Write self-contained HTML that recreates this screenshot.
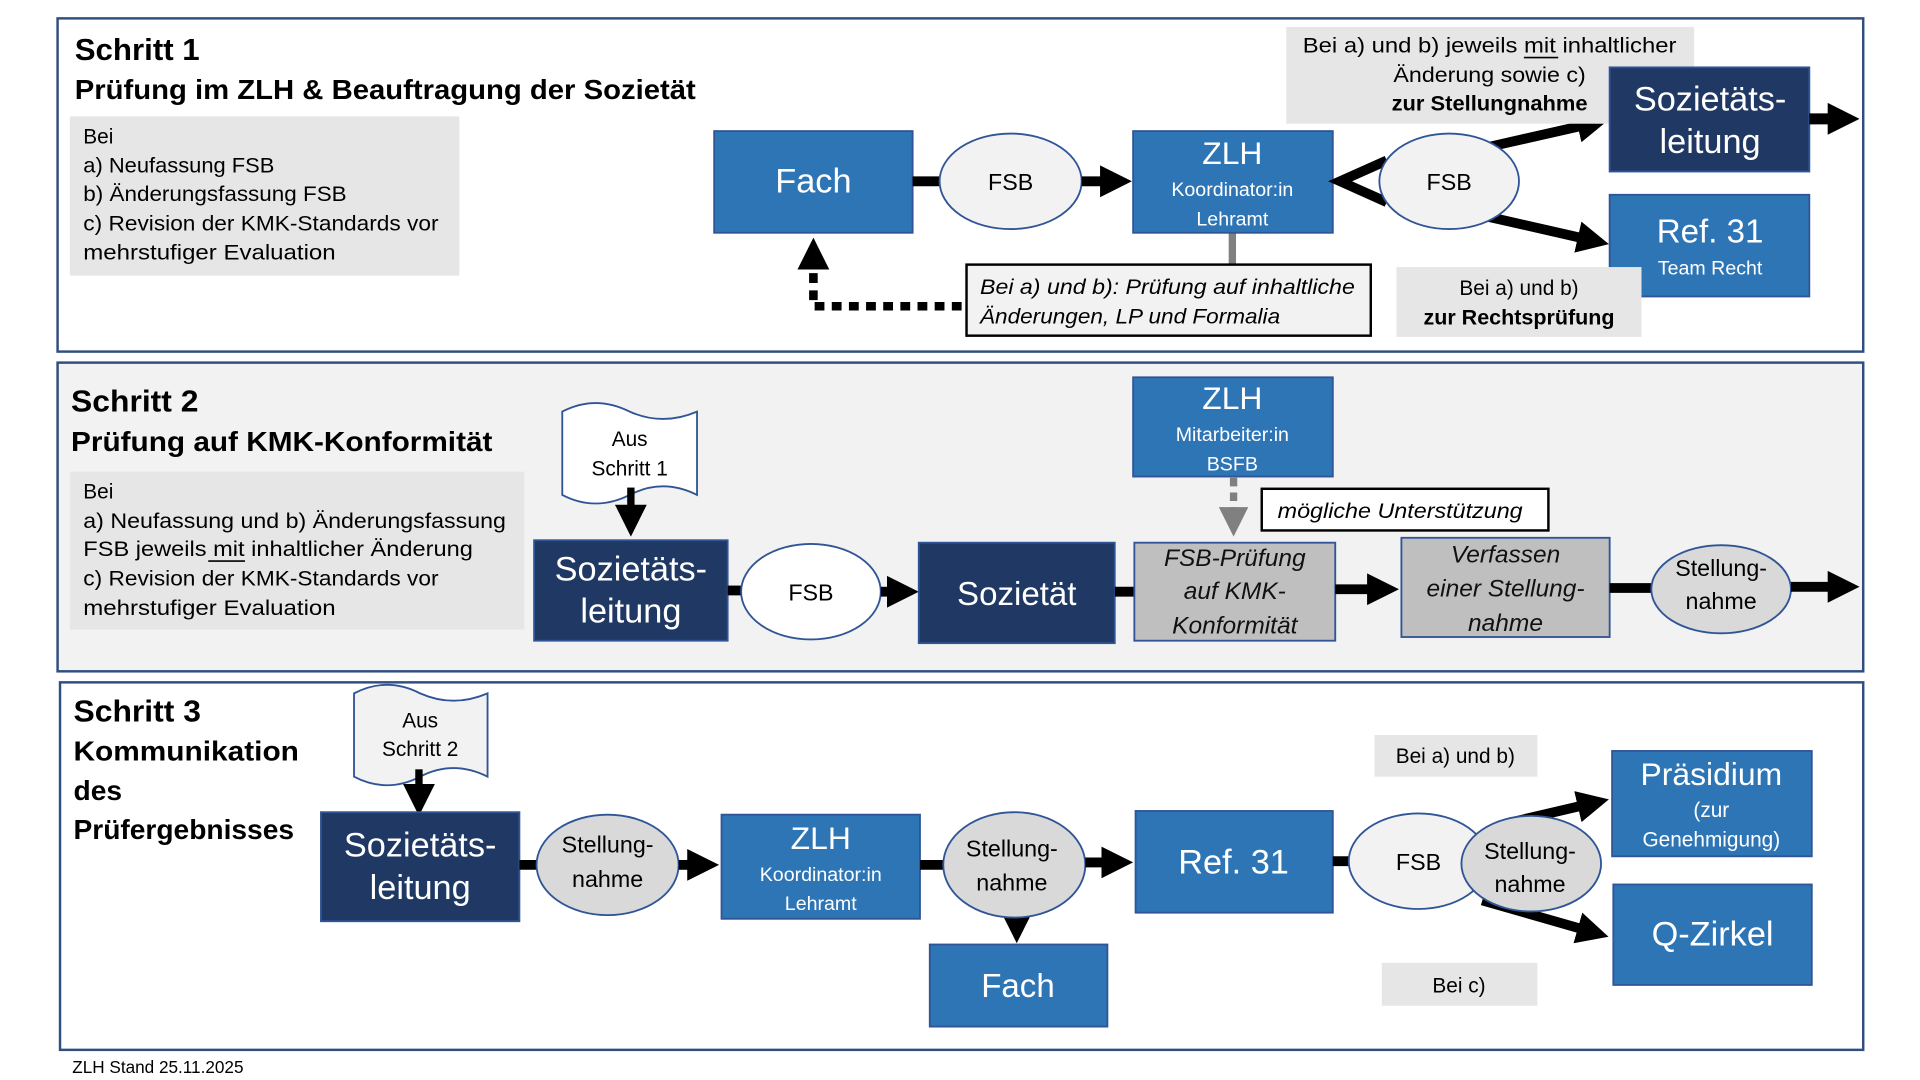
<!DOCTYPE html>
<html><head><meta charset="utf-8"><style>
html,body{margin:0;padding:0;background:#fff;width:1920px;height:1080px;overflow:hidden}
svg{display:block}
text{font-family:"Liberation Sans",sans-serif}
</style></head><body>
<svg width="1920" height="1080" viewBox="0 0 1567.35 881.6" preserveAspectRatio="none">
<defs>
<marker id="ah" markerUnits="userSpaceOnUse" markerWidth="30" markerHeight="30" refX="2" refY="15" orient="auto"><path d="M0,2 L26,15 L0,28 Z" fill="#000"/></marker>
<marker id="ahg" markerUnits="userSpaceOnUse" markerWidth="30" markerHeight="30" refX="2" refY="15" orient="auto"><path d="M0,3 L24,15 L0,27 Z" fill="#808080"/></marker>
</defs>
<rect width="1567.35" height="881.6" fill="#fff"/>
<!-- frames -->
<rect x="47" y="15" width="1474" height="272" fill="#fff" stroke="#2f4d7e" stroke-width="2"/>
<rect x="47" y="296" width="1474" height="252" fill="#f2f2f2" stroke="#2f4d7e" stroke-width="2"/>
<rect x="49" y="557" width="1472" height="300" fill="#fff" stroke="#2f4d7e" stroke-width="2"/>
<text x="59" y="876" font-size="14" fill="#000">ZLH Stand 25.11.2025</text>

<!-- STEP 1 -->
<text x="61" y="49" font-size="25" font-weight="bold" textLength="102" lengthAdjust="spacingAndGlyphs">Schritt 1</text>
<text x="61" y="81" font-size="23" font-weight="bold" textLength="507" lengthAdjust="spacingAndGlyphs">Prüfung im ZLH &amp; Beauftragung der Sozietät</text>
<rect x="57" y="95" width="318" height="130" fill="#e7e6e6"/>
<g font-size="17">
<text x="68" y="117">Bei</text>
<text x="68" y="141" textLength="156" lengthAdjust="spacingAndGlyphs">a) Neufassung FSB</text>
<text x="68" y="164" textLength="215" lengthAdjust="spacingAndGlyphs">b) Änderungsfassung FSB</text>
<text x="68" y="188" textLength="290" lengthAdjust="spacingAndGlyphs">c) Revision der KMK-Standards vor</text>
<text x="68" y="212" textLength="206" lengthAdjust="spacingAndGlyphs">mehrstufiger Evaluation</text>
</g>
<!-- dotted feedback -->
<polyline points="785,250 664,250 664,218" fill="none" stroke="#000" stroke-width="7" stroke-dasharray="8,6" marker-end="url(#ah)"/>
<!-- Fach -->
<rect x="583" y="107" width="162" height="83" fill="#2e75b6" stroke="#2f5597" stroke-width="1.5"/>
<text x="664" y="157" font-size="28" fill="#fff" text-anchor="middle">Fach</text>
<line x1="745" y1="148" x2="770" y2="148" stroke="#000" stroke-width="8"/>
<ellipse cx="825" cy="148" rx="58" ry="39" fill="#f2f2f2" stroke="#2f5597" stroke-width="1.5"/>
<text x="825" y="155" font-size="19" text-anchor="middle">FSB</text>
<line x1="883" y1="148" x2="900" y2="148" stroke="#000" stroke-width="8" marker-end="url(#ah)"/>
<!-- ZLH -->
<line x1="1006" y1="190" x2="1006" y2="217" stroke="#808080" stroke-width="6"/>
<rect x="925" y="107" width="163" height="83" fill="#2e75b6" stroke="#2f5597" stroke-width="1.5"/>
<text x="1006" y="134" font-size="26" fill="#fff" text-anchor="middle">ZLH</text>
<text x="1006" y="160" font-size="16" fill="#fff" text-anchor="middle">Koordinator:in</text>
<text x="1006" y="184" font-size="16" fill="#fff" text-anchor="middle">Lehramt</text>
<polyline points="1132,131 1094,148 1132,165" fill="none" stroke="#000" stroke-width="8"/>
<line x1="1215" y1="120" x2="1290" y2="103" stroke="#000" stroke-width="8" marker-end="url(#ah)"/>
<line x1="1215" y1="177" x2="1290" y2="194" stroke="#000" stroke-width="8" marker-end="url(#ah)"/>
<ellipse cx="1183" cy="148" rx="57" ry="39" fill="#f2f2f2" stroke="#2f5597" stroke-width="1.5"/>
<text x="1183" y="155" font-size="19" text-anchor="middle">FSB</text>
<!-- top label -->
<rect x="1050" y="22" width="333" height="79" fill="#e7e6e6"/>
<g font-size="17" text-anchor="middle">
<text x="1216" y="43" textLength="305" lengthAdjust="spacingAndGlyphs">Bei a) und b) jeweils mit inhaltlicher</text>
<text x="1216" y="67" textLength="157" lengthAdjust="spacingAndGlyphs">Änderung sowie c)</text>
<text x="1216" y="90" font-weight="bold" textLength="160" lengthAdjust="spacingAndGlyphs">zur Stellungnahme</text>
</g>
<line x1="1244" y1="47" x2="1272" y2="47" stroke="#000" stroke-width="1.3"/>
<!-- Sozietätsleitung -->
<rect x="1314" y="55" width="163" height="85" fill="#203864" stroke="#2f5597" stroke-width="1.5"/>
<text x="1396" y="90" font-size="28" fill="#fff" text-anchor="middle">Sozietäts-</text>
<text x="1396" y="125" font-size="28" fill="#fff" text-anchor="middle">leitung</text>
<line x1="1477" y1="97" x2="1494" y2="97" stroke="#000" stroke-width="9" marker-end="url(#ah)"/>
<!-- Ref 31 -->
<rect x="1314" y="159" width="163" height="83" fill="#2e75b6" stroke="#2f5597" stroke-width="1.5"/>
<text x="1396" y="198" font-size="27" fill="#fff" text-anchor="middle">Ref. 31</text>
<text x="1396" y="224" font-size="16" fill="#fff" text-anchor="middle">Team Recht</text>
<rect x="1140" y="218" width="200" height="57" fill="#e7e6e6"/>
<text x="1240" y="241" font-size="17" text-anchor="middle">Bei a) und b)</text>
<text x="1240" y="265" font-size="17" font-weight="bold" text-anchor="middle" textLength="156" lengthAdjust="spacingAndGlyphs">zur Rechtsprüfung</text>
<!-- italic box -->
<rect x="789" y="216" width="330" height="58" fill="#f2f2f2" stroke="#000" stroke-width="2"/>
<text x="800" y="240" font-size="17" font-style="italic" textLength="306" lengthAdjust="spacingAndGlyphs">Bei a) und b): Prüfung auf inhaltliche</text>
<text x="800" y="264" font-size="17" font-style="italic" textLength="245" lengthAdjust="spacingAndGlyphs">Änderungen, LP und Formalia</text>

<!-- STEP 2 -->
<text x="58" y="336" font-size="25" font-weight="bold" textLength="104" lengthAdjust="spacingAndGlyphs">Schritt 2</text>
<text x="58" y="368" font-size="23" font-weight="bold" textLength="344" lengthAdjust="spacingAndGlyphs">Prüfung auf KMK-Konformität</text>
<rect x="57" y="385" width="371" height="129" fill="#e6e6e6"/>
<g font-size="17">
<text x="68" y="407">Bei</text>
<text x="68" y="431" textLength="345" lengthAdjust="spacingAndGlyphs">a) Neufassung und b) Änderungsfassung</text>
<text x="68" y="454" textLength="318" lengthAdjust="spacingAndGlyphs">FSB jeweils mit inhaltlicher Änderung</text>
<text x="68" y="478" textLength="290" lengthAdjust="spacingAndGlyphs">c) Revision der KMK-Standards vor</text>
<text x="68" y="502" textLength="206" lengthAdjust="spacingAndGlyphs">mehrstufiger Evaluation</text>
</g>
<line x1="170" y1="458" x2="200" y2="458" stroke="#000" stroke-width="1.3"/>
<!-- doc shape -->
<path d="M459,336 Q486,322 514,336 Q541,348 569,336 L569,404 Q541,390 514,404 Q486,418 459,404 Z" fill="#fff" stroke="#2f5597" stroke-width="1.5"/>
<text x="514" y="364" font-size="17" text-anchor="middle">Aus</text>
<text x="514" y="388" font-size="17" text-anchor="middle">Schritt 1</text>
<line x1="515" y1="398" x2="515" y2="414" stroke="#000" stroke-width="6" marker-end="url(#ah)"/>
<rect x="436" y="441" width="158" height="82" fill="#203864" stroke="#2f5597" stroke-width="1.5"/>
<text x="515" y="474" font-size="28" fill="#fff" text-anchor="middle">Sozietäts-</text>
<text x="515" y="508" font-size="28" fill="#fff" text-anchor="middle">leitung</text>
<line x1="594" y1="482" x2="606" y2="482" stroke="#000" stroke-width="8"/>
<ellipse cx="662" cy="483" rx="57" ry="39" fill="#fff" stroke="#2f5597" stroke-width="1.5"/>
<text x="662" y="490" font-size="19" text-anchor="middle">FSB</text>
<line x1="719" y1="483" x2="726" y2="483" stroke="#000" stroke-width="8" marker-end="url(#ah)"/>
<rect x="750" y="443" width="160" height="82" fill="#203864" stroke="#2f5597" stroke-width="1.5"/>
<text x="830" y="494" font-size="27" fill="#fff" text-anchor="middle">Sozietät</text>
<line x1="910" y1="483" x2="927" y2="483" stroke="#000" stroke-width="8"/>
<rect x="926" y="443" width="164" height="80" fill="#bfbfbf" stroke="#2f5597" stroke-width="1.5"/>
<g font-size="20" font-style="italic" text-anchor="middle" fill="#111">
<text x="1008" y="462">FSB-Prüfung</text>
<text x="1008" y="489">auf KMK-</text>
<text x="1008" y="517">Konformität</text>
</g>
<rect x="925" y="308" width="163" height="81" fill="#2e75b6" stroke="#2f5597" stroke-width="1.5"/>
<text x="1006" y="334" font-size="26" fill="#fff" text-anchor="middle">ZLH</text>
<text x="1006" y="360" font-size="16" fill="#fff" text-anchor="middle">Mitarbeiter:in</text>
<text x="1006" y="384" font-size="16" fill="#fff" text-anchor="middle">BSFB</text>
<line x1="1007" y1="390" x2="1007" y2="416" stroke="#808080" stroke-width="6" stroke-dasharray="7,5" marker-end="url(#ahg)"/>
<rect x="1030" y="399" width="234" height="34" fill="#fff" stroke="#000" stroke-width="2"/>
<text x="1043" y="423" font-size="17" font-style="italic" textLength="200" lengthAdjust="spacingAndGlyphs">mögliche Unterstützung</text>
<line x1="1090" y1="481" x2="1118" y2="481" stroke="#000" stroke-width="8" marker-end="url(#ah)"/>
<rect x="1144" y="439" width="170" height="81" fill="#bfbfbf" stroke="#2f5597" stroke-width="1.5"/>
<g font-size="20" font-style="italic" text-anchor="middle" fill="#111">
<text x="1229" y="459">Verfassen</text>
<text x="1229" y="487">einer Stellung-</text>
<text x="1229" y="515">nahme</text>
</g>
<line x1="1314" y1="480" x2="1350" y2="480" stroke="#000" stroke-width="8"/>
<ellipse cx="1405" cy="481" rx="57" ry="36" fill="#d9d9d9" stroke="#2f5597" stroke-width="1.5"/>
<text x="1405" y="470" font-size="19" text-anchor="middle">Stellung-</text>
<text x="1405" y="497" font-size="19" text-anchor="middle">nahme</text>
<line x1="1462" y1="479" x2="1494" y2="479" stroke="#000" stroke-width="8" marker-end="url(#ah)"/>

<!-- STEP 3 -->
<text x="60" y="589" font-size="25" font-weight="bold" textLength="104" lengthAdjust="spacingAndGlyphs">Schritt 3</text>
<g font-size="23" font-weight="bold">
<text x="60" y="621" textLength="184" lengthAdjust="spacingAndGlyphs">Kommunikation</text>
<text x="60" y="653">des</text>
<text x="60" y="685" textLength="180" lengthAdjust="spacingAndGlyphs">Prüfergebnisses</text>
</g>
<path d="M289,566 Q316,552 343,566 Q370,578 398,566 L398,634 Q370,620 343,634 Q316,648 289,634 Z" fill="#f2f2f2" stroke="#2f5597" stroke-width="1.5"/>
<text x="343" y="594" font-size="17" text-anchor="middle">Aus</text>
<text x="343" y="617" font-size="17" text-anchor="middle">Schritt 2</text>
<line x1="342" y1="628" x2="342" y2="642" stroke="#000" stroke-width="6" marker-end="url(#ah)"/>
<rect x="262" y="663" width="162" height="89" fill="#203864" stroke="#2f5597" stroke-width="1.5"/>
<text x="343" y="699" font-size="28" fill="#fff" text-anchor="middle">Sozietäts-</text>
<text x="343" y="734" font-size="28" fill="#fff" text-anchor="middle">leitung</text>
<line x1="424" y1="706" x2="440" y2="706" stroke="#000" stroke-width="8"/>
<ellipse cx="496" cy="706" rx="58" ry="41" fill="#d9d9d9" stroke="#2f5597" stroke-width="1.5"/>
<text x="496" y="696" font-size="19" text-anchor="middle">Stellung-</text>
<text x="496" y="724" font-size="19" text-anchor="middle">nahme</text>
<line x1="554" y1="706" x2="563" y2="706" stroke="#000" stroke-width="8" marker-end="url(#ah)"/>
<rect x="589" y="665" width="162" height="85" fill="#2e75b6" stroke="#2f5597" stroke-width="1.5"/>
<text x="670" y="693" font-size="26" fill="#fff" text-anchor="middle">ZLH</text>
<text x="670" y="719" font-size="16" fill="#fff" text-anchor="middle">Koordinator:in</text>
<text x="670" y="743" font-size="16" fill="#fff" text-anchor="middle">Lehramt</text>
<line x1="751" y1="706" x2="776" y2="706" stroke="#000" stroke-width="8"/>
<line x1="830" y1="745" x2="830" y2="746" stroke="#000" stroke-width="6" marker-end="url(#ah)"/>
<ellipse cx="828" cy="706" rx="58" ry="43" fill="#d9d9d9" stroke="#2f5597" stroke-width="1.5"/>
<text x="826" y="699" font-size="19" text-anchor="middle">Stellung-</text>
<text x="826" y="727" font-size="19" text-anchor="middle">nahme</text>
<line x1="886" y1="704" x2="901" y2="704" stroke="#000" stroke-width="8" marker-end="url(#ah)"/>
<rect x="759" y="771" width="145" height="67" fill="#2e75b6" stroke="#2f5597" stroke-width="1.5"/>
<text x="831" y="814" font-size="27" fill="#fff" text-anchor="middle">Fach</text>
<rect x="927" y="662" width="161" height="83" fill="#2e75b6" stroke="#2f5597" stroke-width="1.5"/>
<text x="1007" y="713" font-size="28" fill="#fff" text-anchor="middle">Ref. 31</text>
<line x1="1088" y1="703" x2="1104" y2="703" stroke="#000" stroke-width="8"/>
<line x1="1230" y1="672" x2="1290" y2="658" stroke="#000" stroke-width="8" marker-end="url(#ah)"/>
<line x1="1210" y1="735" x2="1290" y2="758" stroke="#000" stroke-width="8" marker-end="url(#ah)"/>
<ellipse cx="1158" cy="703" rx="57" ry="39" fill="#f2f2f2" stroke="#2f5597" stroke-width="1.5"/>
<text x="1158" y="710" font-size="19" text-anchor="middle">FSB</text>
<ellipse cx="1250" cy="705" rx="57" ry="39" fill="#d9d9d9" stroke="#2f5597" stroke-width="1.5"/>
<text x="1249" y="701" font-size="19" text-anchor="middle">Stellung-</text>
<text x="1249" y="728" font-size="19" text-anchor="middle">nahme</text>
<rect x="1316" y="613" width="163" height="86" fill="#2e75b6" stroke="#2f5597" stroke-width="1.5"/>
<text x="1397" y="641" font-size="26" fill="#fff" text-anchor="middle">Präsidium</text>
<text x="1397" y="667" font-size="17" fill="#fff" text-anchor="middle">(zur</text>
<text x="1397" y="691" font-size="17" fill="#fff" text-anchor="middle">Genehmigung)</text>
<rect x="1317" y="722" width="162" height="82" fill="#2e75b6" stroke="#2f5597" stroke-width="1.5"/>
<text x="1398" y="772" font-size="28" fill="#fff" text-anchor="middle">Q-Zirkel</text>
<rect x="1122" y="600" width="133" height="34" fill="#e7e6e6"/>
<text x="1188" y="623" font-size="17" text-anchor="middle">Bei a) und b)</text>
<rect x="1128" y="786" width="127" height="35" fill="#e7e6e6"/>
<text x="1191" y="810" font-size="17" text-anchor="middle">Bei c)</text>
</svg>
</body></html>
